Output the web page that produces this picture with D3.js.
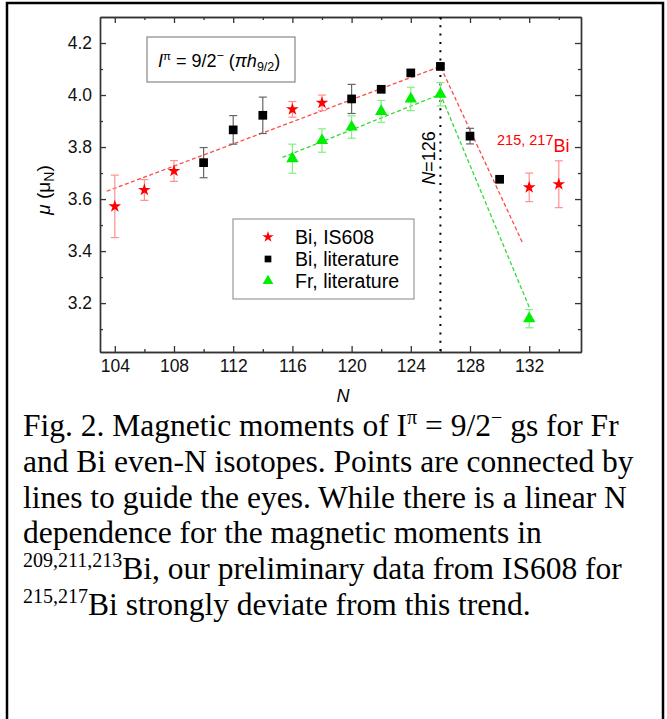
<!DOCTYPE html>
<html>
<head>
<style>
body{margin:0;background:#fff;}
svg{display:block;}
</style>
<script src="https://d3js.org/d3.v7.min.js"></script>
</head>
<body>
<script>
const W = 667, H = 719;

// Bi, IS608 (red stars)
const biIsN   = [104, 106, 108, 116, 118, 132, 134];
const biIsMu  = [3.572, 3.635, 3.708, 3.945, 3.970, 3.645, 3.657];
const biIsErr = [0.12, 0.04, 0.04, 0.03, 0.03, 0.055, 0.09];

// Bi, literature (black squares)
const biLitN   = [110, 112, 114, 120, 122, 124, 126, 128, 130];
const biLitMu  = [3.740, 3.866, 3.922, 3.985, 4.022, 4.085, 4.110, 3.842, 3.676];
const biLitErr = [0.058, 0.055, 0.07, 0.056, 0.01, 0.01, 0.01, 0.03, 0.01];

// Fr, literature (green triangles)
const frN   = [116, 118, 120, 122, 124, 126, 132];
const frMu  = [3.755, 3.825, 3.877, 3.937, 3.985, 4.003, 3.140];
const frErr = [0.056, 0.045, 0.043, 0.042, 0.045, 0.045, 0.035];

// guide-to-the-eye dashed lines
const biGuideN  = [103.45, 126, 131.55];
const biGuideMu = [3.630, 4.110, 3.432];
const frGuideN  = [115.33, 126, 132.05];
const frGuideMu = [3.760, 4.003, 3.178];

// ticks
const xMajor = [104, 108, 112, 116, 120, 124, 128, 132];
const xMinor = [106, 110, 114, 118, 122, 126, 130, 134];
const yMajor = [3.2, 3.4, 3.6, 3.8, 4.0, 4.2];
const yMinor = [3.1, 3.3, 3.5, 3.7, 3.9, 4.1];

const legendNames = ["Bi, IS608", "Bi, literature", "Fr, literature"];

const caption = [
  [["Fig. 2. Magnetic moments of I"], ["\u03c0", "sup"], [" = 9/2"], ["\u2212", "sup"], [" gs for Fr"]],
  [["and Bi even-N isotopes. Points are connected by"]],
  [["lines to guide the eyes. While there is a linear N"]],
  [["dependence for the magnetic moments in"]],
  [["209,211,213", "sup"], ["Bi, our preliminary data from IS608 for"]],
  [["215,217", "sup"], ["Bi strongly deviate from this trend."]]
];

const pLeft = 100, pRight = 581, pTop = 17, pBottom = 352;

const svg = d3.select("body").append("svg")
  .attr("width", W)
  .attr("height", H);

svg.append("rect").attr("width", W).attr("height", H).attr("fill", "#fff");

// outer frame
svg.append("rect")
  .attr("x", 7).attr("y", 3)
  .attr("width", 656).attr("height", 760)
  .attr("fill", "none")
  .attr("stroke", "#000")
  .attr("stroke-width", 2.5);

const x = d3.scaleLinear().domain([103, 135.5]).range([pLeft, pRight]);
const y = d3.scaleLinear().domain([3.012, 4.3]).range([pBottom, pTop]);

const font = "'Liberation Sans', Arial, sans-serif";

// axes
function styleAxis(g) {
  g.selectAll("path").attr("stroke", "#333").attr("stroke-width", 1.4);
  g.selectAll("line").attr("stroke", "#333").attr("stroke-width", 1.3);
  g.selectAll("text").attr("fill", "#111").style("font-family", font).style("font-size", "17.5px");
}

svg.append("g").attr("transform", `translate(0,${pBottom})`)
  .call(d3.axisBottom(x).tickValues(xMajor).tickSizeInner(-6).tickSizeOuter(0).tickPadding(8).tickFormat(d3.format("d")))
  .call(styleAxis);
svg.append("g").attr("transform", `translate(0,${pBottom})`)
  .call(d3.axisBottom(x).tickValues(xMinor).tickSizeInner(-3).tickSizeOuter(0).tickFormat(""))
  .call(styleAxis);
svg.append("g").attr("transform", `translate(0,${pTop})`)
  .call(d3.axisTop(x).tickValues(xMajor).tickSizeInner(-6).tickSizeOuter(0).tickFormat(""))
  .call(styleAxis);
svg.append("g").attr("transform", `translate(0,${pTop})`)
  .call(d3.axisTop(x).tickValues(xMinor).tickSizeInner(-3).tickSizeOuter(0).tickFormat(""))
  .call(styleAxis);

svg.append("g").attr("transform", `translate(${pLeft},0)`)
  .call(d3.axisLeft(y).tickValues(yMajor).tickSizeInner(-6).tickSizeOuter(0).tickPadding(8).tickFormat(d3.format(".1f")))
  .call(styleAxis);
svg.append("g").attr("transform", `translate(${pLeft},0)`)
  .call(d3.axisLeft(y).tickValues(yMinor).tickSizeInner(-3).tickSizeOuter(0).tickFormat(""))
  .call(styleAxis);
svg.append("g").attr("transform", `translate(${pRight},0)`)
  .call(d3.axisRight(y).tickValues(yMajor).tickSizeInner(-6).tickSizeOuter(0).tickFormat(""))
  .call(styleAxis);
svg.append("g").attr("transform", `translate(${pRight},0)`)
  .call(d3.axisRight(y).tickValues(yMinor).tickSizeInner(-3).tickSizeOuter(0).tickFormat(""))
  .call(styleAxis);

// axis titles
svg.append("text")
  .attr("x", 343).attr("y", 402)
  .attr("text-anchor", "middle")
  .style("font-family", font).style("font-size", "18px").style("font-style", "italic")
  .text("N");

const yt = svg.append("text")
  .attr("transform", "translate(43,190) rotate(-90)")
  .attr("text-anchor", "middle")
  .attr("dy", "0.35em")
  .style("font-family", font).style("font-size", "19px");
yt.append("tspan").style("font-style", "italic").text("\u03bc");
yt.append("tspan").text(" (\u03bc");
yt.append("tspan").attr("dy", 4).style("font-size", "14px").text("N");
yt.append("tspan").attr("dy", -4).text(")");

// N=126 dotted line
svg.append("line")
  .attr("x1", x(126)).attr("x2", x(126))
  .attr("y1", pTop).attr("y2", pBottom)
  .attr("stroke", "#000").attr("stroke-width", 2)
  .attr("stroke-dasharray", "2,6.3");

const nl = svg.append("text")
  .attr("transform", "translate(429,158) rotate(-90)")
  .attr("text-anchor", "middle")
  .attr("dy", "0.35em")
  .style("font-family", font).style("font-size", "18px");
nl.append("tspan").style("font-style", "italic").text("N");
nl.append("tspan").text("=126");

// guide lines
const line = d3.line().x(d => x(d[0])).y(d => y(d[1]));
svg.append("path")
  .attr("d", line(biGuideN.map((n, i) => [n, biGuideMu[i]])))
  .attr("fill", "none").attr("stroke", "#ff4a4a").attr("stroke-width", 1.3)
  .attr("stroke-dasharray", "4,2.5");
svg.append("path")
  .attr("d", line(frGuideN.map((n, i) => [n, frGuideMu[i]])))
  .attr("fill", "none").attr("stroke", "#2fdc2f").attr("stroke-width", 1.3)
  .attr("stroke-dasharray", "4,2.5");

// series
const series = [
  {n: biIsN, mu: biIsMu, err: biIsErr, sym: d3.symbolStar, size: 50, color: "#ff0000", errColor: "#ff9090"},
  {n: biLitN, mu: biLitMu, err: biLitErr, sym: d3.symbolSquare, size: 76, color: "#000000", errColor: "#666666"},
  {n: frN, mu: frMu, err: frErr, sym: d3.symbolTriangle, size: 66, color: "#00ee00", errColor: "#80f080"}
];

series.forEach(s => {
  const pts = s.n.map((n, i) => ({n: n, mu: s.mu[i], e: s.err[i]}));
  const g = svg.append("g");
  const eb = g.selectAll(".eb").data(pts).enter().append("g")
    .attr("stroke", s.errColor).attr("stroke-width", 1.2);
  eb.append("line")
    .attr("x1", d => x(d.n)).attr("x2", d => x(d.n))
    .attr("y1", d => y(d.mu - d.e)).attr("y2", d => y(d.mu + d.e));
  eb.append("line")
    .attr("x1", d => x(d.n) - 4).attr("x2", d => x(d.n) + 4)
    .attr("y1", d => y(d.mu - d.e)).attr("y2", d => y(d.mu - d.e));
  eb.append("line")
    .attr("x1", d => x(d.n) - 4).attr("x2", d => x(d.n) + 4)
    .attr("y1", d => y(d.mu + d.e)).attr("y2", d => y(d.mu + d.e));
  g.selectAll(".pt").data(pts).enter().append("path")
    .attr("d", d3.symbol(s.sym, s.size))
    .attr("transform", d => `translate(${x(d.n)},${y(d.mu)})`)
    .attr("fill", s.color);
});

// 215, 217Bi label
const bl = svg.append("text")
  .attr("x", 497).attr("y", 152)
  .attr("fill", "#ff0000")
  .style("font-family", font);
bl.append("tspan").attr("dy", -7).style("font-size", "14.5px").text("215, 217");
bl.append("tspan").attr("dy", 7).style("font-size", "18px").text("Bi");

// inset box
svg.append("rect")
  .attr("x", 147).attr("y", 37).attr("width", 148).attr("height", 45)
  .attr("fill", "#fff").attr("stroke", "#888").attr("stroke-width", 1.2);
const it = svg.append("text")
  .attr("x", 158).attr("y", 67)
  .style("font-family", font).style("font-size", "18px");
it.append("tspan").style("font-style", "italic").text("I");
it.append("tspan").attr("dy", -7).style("font-size", "11.5px").text("\u03c0");
it.append("tspan").attr("dy", 7).text(" = 9/2");
it.append("tspan").attr("dy", -7).style("font-size", "12.5px").text("\u2212");
it.append("tspan").attr("dy", 7).text(" (");
it.append("tspan").style("font-style", "italic").text("\u03c0h");
it.append("tspan").attr("dy", 4).style("font-size", "12.5px").text("9/2");
it.append("tspan").attr("dy", -4).text(")");

// legend
svg.append("rect")
  .attr("x", 233).attr("y", 219).attr("width", 181).attr("height", 80)
  .attr("fill", "#fff").attr("stroke", "#999").attr("stroke-width", 1.2);
const legSym = [
  {sym: d3.symbolStar, size: 40, color: "#ff0000"},
  {sym: d3.symbolSquare, size: 45, color: "#000000"},
  {sym: d3.symbolTriangle, size: 50, color: "#00ee00"}
];
const leg = svg.selectAll(".leg").data(legendNames).enter().append("g")
  .attr("transform", (d, i) => `translate(268,${237 + i * 22})`);
leg.append("path")
  .attr("d", (d, i) => d3.symbol(legSym[i].sym, legSym[i].size)())
  .attr("fill", (d, i) => legSym[i].color);
leg.append("text")
  .attr("x", 27).attr("y", 7)
  .style("font-family", font).style("font-size", "19.5px")
  .text(d => d);

// caption
const cap = svg.append("g")
  .style("font-family", "'Liberation Serif', 'Times New Roman', serif")
  .style("font-size", "31.5px")
  .attr("fill", "#000");
caption.forEach((parts, i) => {
  const t = cap.append("text").attr("x", 23).attr("y", 436 + i * 35.8);
  let raised = false;
  parts.forEach(p => {
    const ts = t.append("tspan").text(p[0]);
    if (p[1] === "sup") {
      ts.style("font-size", "20px").attr("dy", raised ? 0 : -12);
      raised = true;
    } else if (raised) {
      ts.attr("dy", 12);
      raised = false;
    }
  });
});
</script>
</body>
</html>
